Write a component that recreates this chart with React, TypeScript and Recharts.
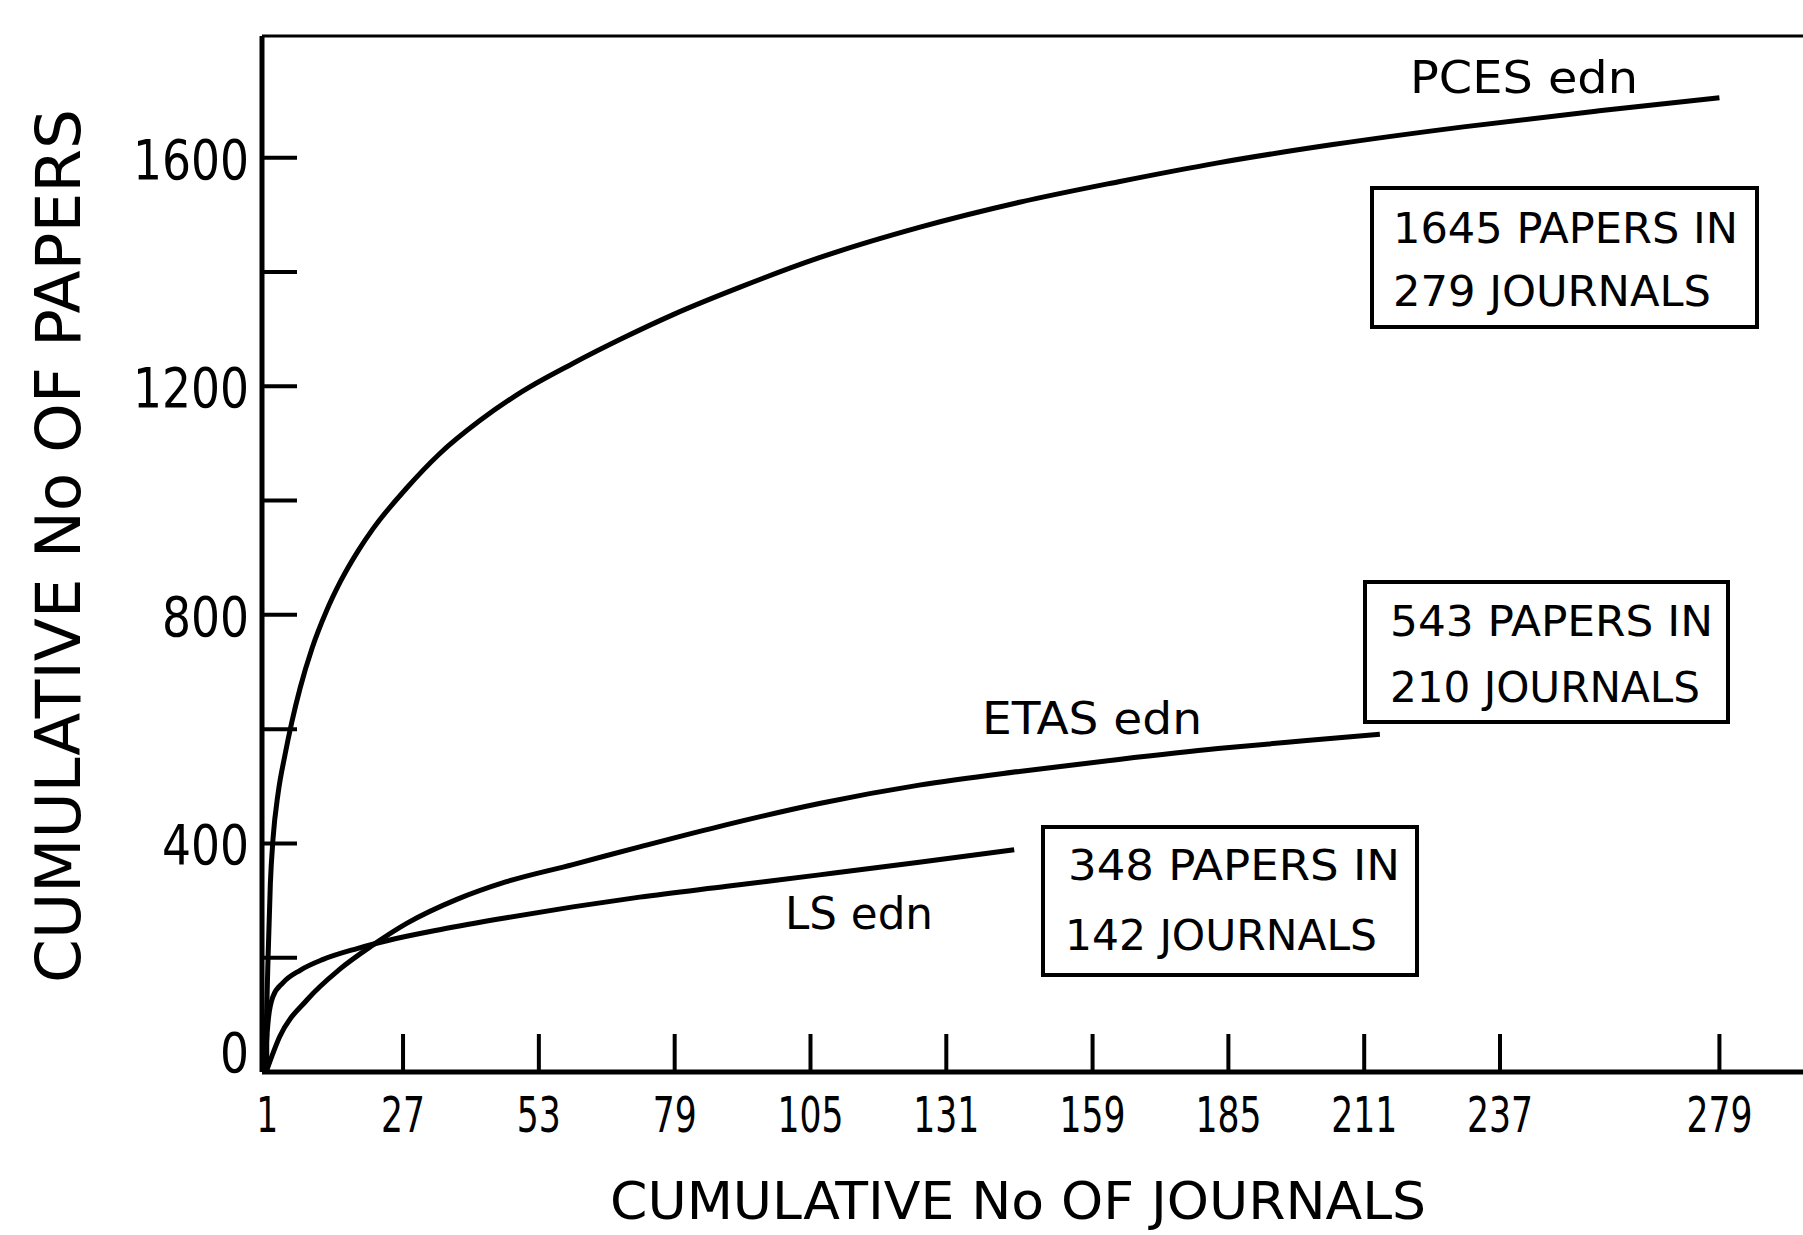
import React from 'react';
import { LineChart, Line, XAxis, YAxis, ReferenceLine } from 'recharts';

// values (journals on x, cumulative papers on y)
const pcesJournals = [0.6, 1.1, 1.6, 2.1, 3.1, 4.4, 5.7, 7.3, 9.6, 12.4, 15, 18.4, 21.2, 27.7, 34, 41.7, 50, 59.5, 69, 78.6, 91.4, 106.7, 125.8, 145, 164, 183, 205, 230, 256, 279];
const pcesPapers = [0, 180, 330, 407, 489, 555, 612, 672, 742, 808, 858, 912, 950, 1022, 1082, 1140, 1192, 1240, 1284, 1325, 1373, 1425, 1478, 1522, 1558, 1591, 1623, 1654, 1682, 1705];

const etasJournals = [0.8, 3.4, 8.6, 14.9, 21.2, 27.7, 37.3, 46.8, 59.5, 72.3, 89, 106.7, 125.8, 145, 164, 183, 200, 214];
const etasPapers = [0, 62, 126, 180, 222, 260, 302, 333, 363, 394, 433, 470, 502, 526, 547, 566, 580, 591];

const lsJournals = [0.5, 1.2, 2.1, 4, 7.3, 11.7, 18.2, 24.5, 34, 46.8, 59.5, 72.3, 89, 106.7, 125.8, 144];
const lsPapers = [0, 91, 132, 156, 178, 197, 216, 231, 249, 270, 289, 306, 325, 345, 367, 389];

const journalTicks = [1, 27, 53, 79, 105, 131, 159, 185, 211, 237, 279];
const paperTicks = [0, 200, 400, 600, 800, 1000, 1200, 1400, 1600];
const labelledPapers = [0, 400, 800, 1200, 1600];

const toPoints = (js: number[], ps: number[]) => js.map((j, i) => ({ j, v: ps[i] }));

const pcesData = toPoints(pcesJournals, pcesPapers);
const etasData = toPoints(etasJournals, etasPapers);
const lsData = toPoints(lsJournals, lsPapers);

const font = "'DejaVu Sans Condensed', 'Liberation Sans Narrow', 'DejaVu Sans', sans-serif";

const XTick = (props: any) => {
  const { x, y, payload } = props;
  const s = String(payload.value);
  return (
    <g>
      <line x1={x} x2={x} y1={y} y2={y - 38} stroke="#000" strokeWidth={4} />
      <text
        x={x}
        y={y + 60}
        textAnchor="middle"
        textLength={s.length * 22}
        lengthAdjust="spacingAndGlyphs"
        fontFamily={font}
        fontSize={50}
        fill="#000"
      >
        {s}
      </text>
    </g>
  );
};

const YTick = (props: any) => {
  const { x, y, payload } = props;
  const v = payload.value;
  const s = String(v);
  return (
    <g>
      <line x1={x} x2={x + 35} y1={y} y2={y} stroke="#000" strokeWidth={4} />
      {labelledPapers.includes(v) && (
        <text
          x={x - 13}
          y={v === 0 ? y : y + 21}
          textAnchor="end"
          textLength={s.length * 29}
          lengthAdjust="spacingAndGlyphs"
          fontFamily={font}
          fontSize={56}
          fill="#000"
        >
          {s}
        </text>
      )}
    </g>
  );
};

const Note = ({ x, y, w, children }: any) => (
  <text x={x} y={y} textLength={w} lengthAdjust="spacingAndGlyphs" fontFamily={font} fontSize={42} fill="#000">
    {children}
  </text>
);

const App = () => {
  return (
    <div style={{ position: 'absolute', left: 0, top: 0, width: 1803, height: 1235, background: '#fff' }}>
      <LineChart width={1803} height={1235} margin={{ top: 36, right: 0, bottom: 0, left: 0 }}>
        <XAxis
          dataKey="j"
          type="number"
          domain={[0, 295]}
          ticks={journalTicks}
          interval={0}
          height={163}
          tickSize={0}
          tickMargin={0}
          tickLine={false}
          axisLine={{ stroke: '#000', strokeWidth: 5 }}
          tick={XTick}
        />
        <YAxis
          type="number"
          domain={[0, 1813]}
          ticks={paperTicks}
          interval={0}
          width={262}
          tickSize={0}
          tickMargin={0}
          tickLine={false}
          axisLine={{ stroke: '#000', strokeWidth: 5 }}
          tick={YTick}
        />
        <ReferenceLine y={1813} stroke="#000" strokeWidth={3} />
        <Line data={pcesData} dataKey="v" type="monotone" stroke="#000" strokeWidth={5} dot={false} isAnimationActive={false} />
        <Line data={etasData} dataKey="v" type="monotone" stroke="#000" strokeWidth={5} dot={false} isAnimationActive={false} />
        <Line data={lsData} dataKey="v" type="monotone" stroke="#000" strokeWidth={5} dot={false} isAnimationActive={false} />
      </LineChart>

      <svg width={1803} height={1235} style={{ position: 'absolute', left: 0, top: 0, pointerEvents: 'none' }}>
        <g transform="translate(80, 546) rotate(-90)">
          <text x={0} y={0} textAnchor="middle" textLength={874} lengthAdjust="spacingAndGlyphs" fontFamily={font} fontSize={62} fill="#000">
            CUMULATIVE No OF PAPERS
          </text>
        </g>
        <text x={1018} y={1219} textAnchor="middle" textLength={816} lengthAdjust="spacingAndGlyphs" fontFamily={font} fontSize={52} fill="#000">
          CUMULATIVE No OF JOURNALS
        </text>

        <text x={1410} y={93} textLength={228} lengthAdjust="spacingAndGlyphs" fontFamily={font} fontSize={44} fill="#000">PCES edn</text>
        <text x={982} y={734} textLength={220} lengthAdjust="spacingAndGlyphs" fontFamily={font} fontSize={44} fill="#000">ETAS edn</text>
        <text x={785} y={929} textLength={148} lengthAdjust="spacingAndGlyphs" fontFamily={font} fontSize={44} fill="#000">LS edn</text>

        <rect x={1372} y={188} width={385} height={139} fill="none" stroke="#000" strokeWidth={4} />
        <Note x={1393} y={243} w={345}>1645 PAPERS IN</Note>
        <Note x={1393} y={306} w={318}>279 JOURNALS</Note>

        <rect x={1365} y={582} width={363} height={140} fill="none" stroke="#000" strokeWidth={4} />
        <Note x={1390} y={636} w={323}>543 PAPERS IN</Note>
        <Note x={1390} y={702} w={310}>210 JOURNALS</Note>

        <rect x={1043} y={827} width={374} height={148} fill="none" stroke="#000" strokeWidth={4} />
        <Note x={1068} y={880} w={332}>348 PAPERS IN</Note>
        <Note x={1065} y={950} w={312}>142 JOURNALS</Note>
      </svg>
    </div>
  );
};

export default App;
